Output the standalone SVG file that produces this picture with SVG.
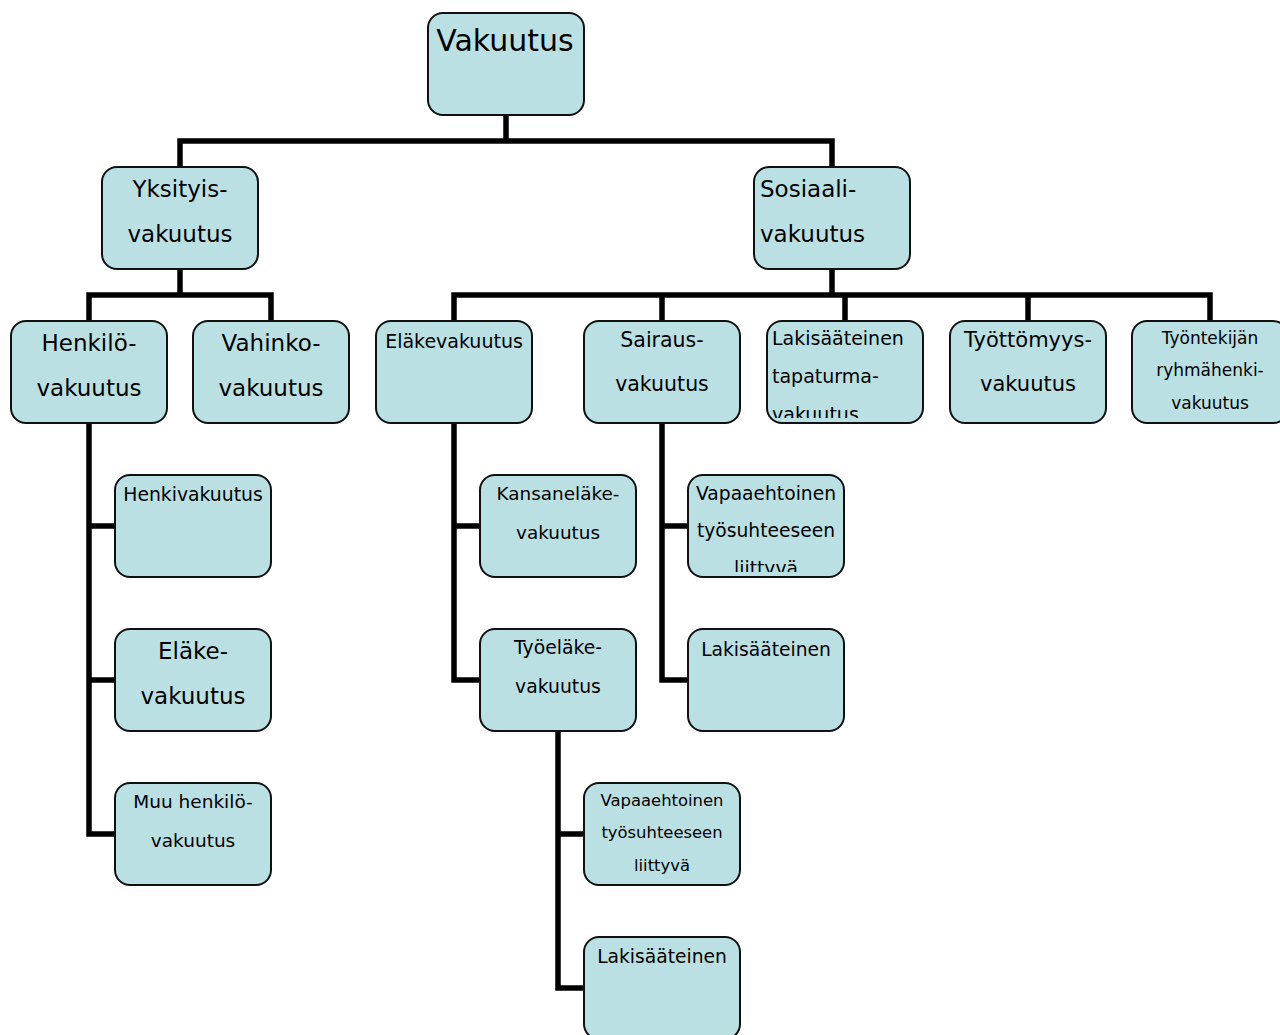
<svg xmlns="http://www.w3.org/2000/svg" width="1280" height="1035" viewBox="0 0 1280 1035">
<style>
.box{fill:#bbe0e3;stroke:#111;stroke-width:2}
.c{fill:none;stroke:#000;stroke-width:5.5;stroke-linecap:square}
text{font-family:"DejaVu Sans","Liberation Sans",sans-serif;fill:#000}
.m{text-anchor:middle}
</style>
<defs>
<clipPath id="clipLak"><rect x="768" y="322" width="154" height="96"/></clipPath>
<clipPath id="clipVap"><rect x="689" y="476" width="154" height="96"/></clipPath>
</defs>
<rect width="1280" height="1035" fill="#fff"/>
<g id="connectors">
<path class="c" d="M506 115V141M180 141H832M180 141V167M832 141V167"/>
<path class="c" d="M180 269V295M89 295H271M89 295V321M271 295V321"/>
<path class="c" d="M832 269V295M454 295H1210M454 295V321M662 295V321M845 295V321M1028 295V321M1210 295V321"/>
<path class="c" d="M89 423V834M89 526H115M89 680H115M89 834H115"/>
<path class="c" d="M454 423V680M454 526H480M454 680H480"/>
<path class="c" d="M662 423V680M662 526H688M662 680H688"/>
<path class="c" d="M558 731V988M558 834H584M558 988H584"/>
</g>
<g id="n-vakuutus"><rect class="box" x="428" y="13" width="156" height="102" rx="15"/><text class="m" x="505" y="51" font-size="30">Vakuutus</text></g>
<g id="n-yksityis"><rect class="box" x="102" y="167" width="156" height="102" rx="15"/><text class="m" x="180" y="197" font-size="23">Yksityis-</text><text class="m" x="180" y="242" font-size="23">vakuutus</text></g>
<g id="n-sosiaali"><rect class="box" x="754" y="167" width="156" height="102" rx="15"/><text x="760" y="197" font-size="23">Sosiaali-</text><text x="760" y="242" font-size="23">vakuutus</text></g>
<g id="n-henkilo"><rect class="box" x="11" y="321" width="156" height="102" rx="15"/><text class="m" x="89" y="351" font-size="23">Henkilö-</text><text class="m" x="89" y="396" font-size="23">vakuutus</text></g>
<g id="n-vahinko"><rect class="box" x="193" y="321" width="156" height="102" rx="15"/><text class="m" x="271" y="351" font-size="23">Vahinko-</text><text class="m" x="271" y="396" font-size="23">vakuutus</text></g>
<g id="n-elakevakuutus"><rect class="box" x="376" y="321" width="156" height="102" rx="15"/><text class="m" x="454" y="348" font-size="19">Eläkevakuutus</text></g>
<g id="n-sairaus"><rect class="box" x="584" y="321" width="156" height="102" rx="15"/><text class="m" x="662" y="347" font-size="20.5">Sairaus-</text><text class="m" x="662" y="391" font-size="20.5">vakuutus</text></g>
<g id="n-tapaturma"><rect class="box" x="767" y="321" width="156" height="102" rx="15"/><g clip-path="url(#clipLak)"><text x="772" y="345" font-size="19">Lakisääteinen</text><text x="772" y="383" font-size="19">tapaturma-</text><text x="772" y="421" font-size="19">vakuutus</text></g></g>
<g id="n-tyottomyys"><rect class="box" x="950" y="321" width="156" height="102" rx="15"/><text class="m" x="1028" y="347" font-size="21">Työttömyys-</text><text class="m" x="1028" y="391" font-size="21">vakuutus</text></g>
<g id="n-tyontekijan"><rect class="box" x="1132" y="321" width="156" height="102" rx="15"/><text class="m" x="1210" y="344" font-size="17">Työntekijän</text><text class="m" x="1210" y="376" font-size="17">ryhmähenki-</text><text class="m" x="1210" y="409" font-size="17">vakuutus</text></g>
<g id="n-henkivakuutus"><rect class="box" x="115" y="475" width="156" height="102" rx="15"/><text class="m" x="193" y="501" font-size="18.8">Henkivakuutus</text></g>
<g id="n-elake"><rect class="box" x="115" y="629" width="156" height="102" rx="15"/><text class="m" x="193" y="659" font-size="23">Eläke-</text><text class="m" x="193" y="704" font-size="23">vakuutus</text></g>
<g id="n-muu"><rect class="box" x="115" y="783" width="156" height="102" rx="15"/><text class="m" x="193" y="808" font-size="18.5">Muu henkilö-</text><text class="m" x="193" y="847" font-size="18.5">vakuutus</text></g>
<g id="n-kansanelake"><rect class="box" x="480" y="475" width="156" height="102" rx="15"/><text class="m" x="558" y="500" font-size="18.4">Kansaneläke-</text><text class="m" x="558" y="539" font-size="18.4">vakuutus</text></g>
<g id="n-tyoelake"><rect class="box" x="480" y="629" width="156" height="102" rx="15"/><text class="m" x="558" y="654" font-size="18.8">Työeläke-</text><text class="m" x="558" y="693" font-size="18.8">vakuutus</text></g>
<g id="n-vapaa1"><rect class="box" x="688" y="475" width="156" height="102" rx="15"/><g clip-path="url(#clipVap)"><text class="m" x="766" y="500" font-size="18.7">Vapaaehtoinen</text><text class="m" x="766" y="537" font-size="18.7">työsuhteeseen</text><text class="m" x="766" y="575" font-size="18.7">liittyvä</text></g></g>
<g id="n-lakisaat1"><rect class="box" x="688" y="629" width="156" height="102" rx="15"/><text class="m" x="766" y="656" font-size="18.7">Lakisääteinen</text></g>
<g id="n-vapaa2"><rect class="box" x="584" y="783" width="156" height="102" rx="15"/><text class="m" x="662" y="806" font-size="16.4">Vapaaehtoinen</text><text class="m" x="662" y="838" font-size="16.4">työsuhteeseen</text><text class="m" x="662" y="871" font-size="16.4">liittyvä</text></g>
<g id="n-lakisaat2"><rect class="box" x="584" y="937" width="156" height="102" rx="15"/><text class="m" x="662" y="963" font-size="18.7">Lakisääteinen</text></g>
</svg>
